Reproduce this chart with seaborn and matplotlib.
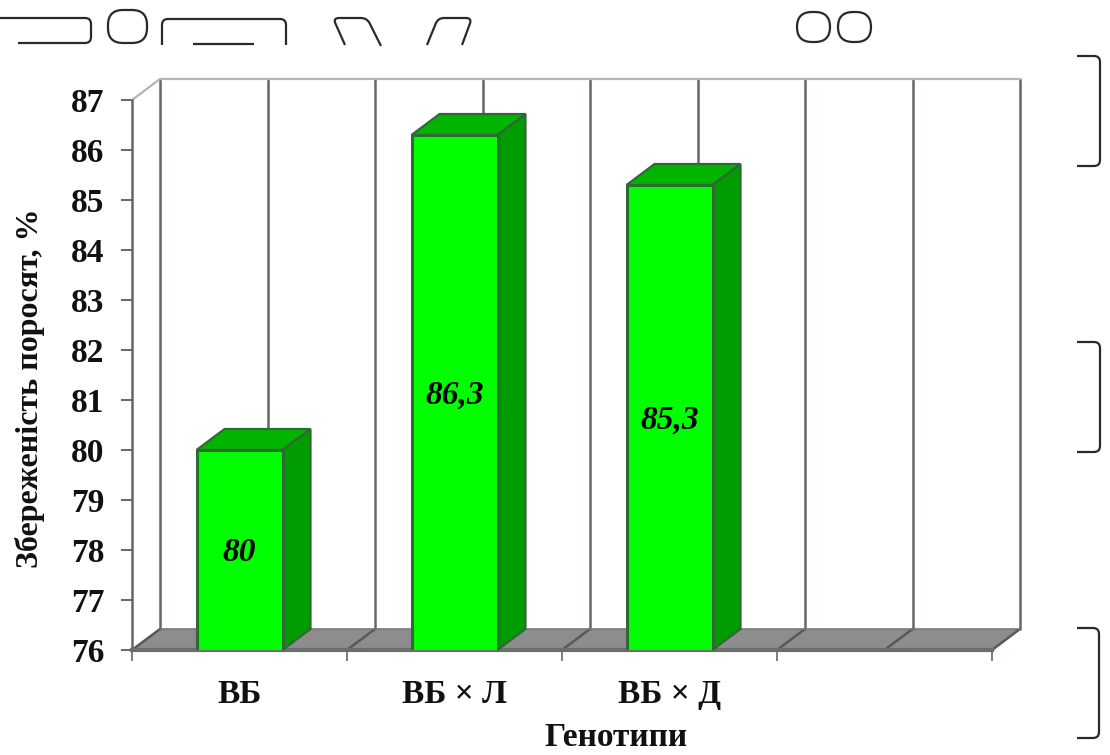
import numpy as np
import pandas as pd
import seaborn as sns
from matplotlib import pyplot as plt
from matplotlib.patches import FancyBboxPatch, PathPatch, Polygon
from matplotlib.path import Path
from matplotlib.transforms import Affine2D

genotypes = ["ВБ", "ВБ × Л", "ВБ × Д", " "]
survival = [80, 86.3, 85.3, np.nan]
bar_labels = ["80", "86,3", "85,3"]
y_ticks = list(range(76, 88))

sns.set_theme(style="white")
plt.rcParams["font.family"] = ["Liberation Serif", "DejaVu Serif"]
plt.rcParams["font.weight"] = "bold"

W, H = 1110, 755
GRID = "#5f6b62"
DEPTH_X = 28 / 215
DEPTH_Y = 21 / 50


def rounded_path(pts, r=6):
    # polyline with its inner corners rounded off
    pts = [np.array(p, dtype=float) for p in pts]
    verts, codes = [pts[0]], [Path.MOVETO]
    for prev, cur, nxt in zip(pts, pts[1:], pts[2:]):
        a = cur + (prev - cur) / np.linalg.norm(prev - cur) * r
        b = cur + (nxt - cur) / np.linalg.norm(nxt - cur) * r
        verts += [a, cur, b]
        codes += [Path.LINETO, Path.CURVE3, Path.CURVE3]
    verts.append(pts[-1])
    codes.append(Path.LINETO)
    return Path(verts, codes)


fig = plt.figure(figsize=(W / 100, H / 100), dpi=100, facecolor="white")
ax = fig.add_axes([132 / W, (H - 650) / H, 860 / W, 550 / H])

df = pd.DataFrame({"genotype": genotypes, "survival": survival})
sns.barplot(
    data=df, x="genotype", y="survival", order=genotypes, width=0.4,
    color="#00ff00", saturation=1, edgecolor="#2f6a35", linewidth=2.2,
    zorder=5, ax=ax,
)
ax.set_xlim(-0.5, 3.5)
ax.set_ylim(76, 87)

# back wall and floor
ax.add_patch(Polygon(
    [(-0.5, 76), (3.5, 76), (3.5 + DEPTH_X, 76 + DEPTH_Y), (-0.5 + DEPTH_X, 76 + DEPTH_Y)],
    facecolor="#8e8c8e", edgecolor="none", zorder=1, clip_on=False,
))
for x in np.arange(-0.5, 3.51, 0.5):
    ax.plot([x + DEPTH_X] * 2, [76 + DEPTH_Y, 87 + DEPTH_Y], color=GRID, lw=1.8,
            zorder=2, clip_on=False)
    ax.plot([x, x + DEPTH_X], [76, 76 + DEPTH_Y], color="#555a55", lw=1.8,
            zorder=2, clip_on=False)
ax.plot([-0.5, -0.5 + DEPTH_X, 3.5 + DEPTH_X], [87, 87 + DEPTH_Y, 87 + DEPTH_Y],
        color="#b4b6b4", lw=1.6, zorder=2, clip_on=False)
ax.plot([-0.5 + DEPTH_X, 3.5 + DEPTH_X], [76 + DEPTH_Y] * 2, color="#777a77", lw=1.2,
        zorder=2, clip_on=False)

# 3d faces of the bars
for bar in ax.containers[0]:
    x0, x1 = bar.get_x(), bar.get_x() + bar.get_width()
    top = bar.get_height() + bar.get_y()
    ax.add_patch(Polygon(
        [(x0, top), (x1, top), (x1 + DEPTH_X, top + DEPTH_Y), (x0 + DEPTH_X, top + DEPTH_Y)],
        facecolor="#00b400", edgecolor="#2f6a35", lw=1.6, zorder=4, clip_on=False,
    ))
    ax.add_patch(Polygon(
        [(x1, 76), (x1 + DEPTH_X, 76 + DEPTH_Y), (x1 + DEPTH_X, top + DEPTH_Y), (x1, top)],
        facecolor="#009c00", edgecolor="#2f6a35", lw=1.6, zorder=4, clip_on=False,
    ))

ax.bar_label(ax.containers[0], labels=bar_labels, label_type="center", padding=-2,
             fontsize=24, fontstyle="italic", fontweight="bold", color="black", zorder=6)

# axes
for side in ["top", "right"]:
    ax.spines[side].set_visible(False)
ax.spines["left"].set_color(GRID)
ax.spines["left"].set_linewidth(1.8)
ax.spines["bottom"].set_color("#6b6f6b")
ax.spines["bottom"].set_linewidth(3)
ax.spines["bottom"].set_zorder(3)
ax.set_yticks(y_ticks)
ax.tick_params(axis="y", length=8, width=1.4, color=GRID, labelsize=24, pad=12,
               labelcolor="#111111", left=True)
ax.set_xticks(range(len(genotypes)))
ax.set_xticks(np.arange(-0.5, 3.51, 1), minor=True)
ax.tick_params(axis="x", which="major", length=0, labelsize=24, pad=21, labelcolor="#111111")
ax.tick_params(axis="x", which="minor", length=8, width=1.2, color=GRID, bottom=True)
ax.set_xlabel("Генотипи", fontsize=24, fontweight="bold", color="#111111", labelpad=0, va="center")
ax.set_ylabel("Збереженість поросят, %", fontsize=23, fontweight="bold", color="#111111", va="center")
ax.xaxis.set_label_coords((616 - 132) / 860, -(737 - 650) / 550)
ax.yaxis.set_label_coords((30 - 132) / 860, (650 - 388) / 550)

# leftover outline shapes around the figure, in pixels from the top left
px = Affine2D().scale(1, -1).translate(0, H)
shapes = [
    [(0, 18), (91, 18), (91, 43), (18, 43)],
    [(162, 45), (162, 19), (286, 19), (286, 45)],
    [(193, 44), (254, 44)],
    [(345, 45), (333, 18), (367, 18), (381, 46)],
    [(427, 45), (438, 18), (472, 18), (462, 45)],
    [(1077, 56), (1100, 56), (1100, 166), (1077, 166)],
    [(1077, 342), (1100, 342), (1100, 452), (1077, 452)],
    [(1077, 628), (1099, 628), (1099, 738), (1077, 738)],
]
for pts in shapes:
    fig.add_artist(PathPatch(rounded_path(pts), facecolor="none", edgecolor="#2a2a2a",
                             lw=1.6, transform=px))
for x0, y0, w, h in [(108, 10, 39, 33), (797, 12, 33, 30), (838, 12, 33, 30)]:
    fig.add_artist(FancyBboxPatch(
        (x0, y0), w, h, boxstyle="round,pad=0,rounding_size=15", transform=px,
        facecolor="none", edgecolor="#2a2a2a", lw=1.6,
    ))

fig.savefig("out.png", dpi=100, facecolor="white")
